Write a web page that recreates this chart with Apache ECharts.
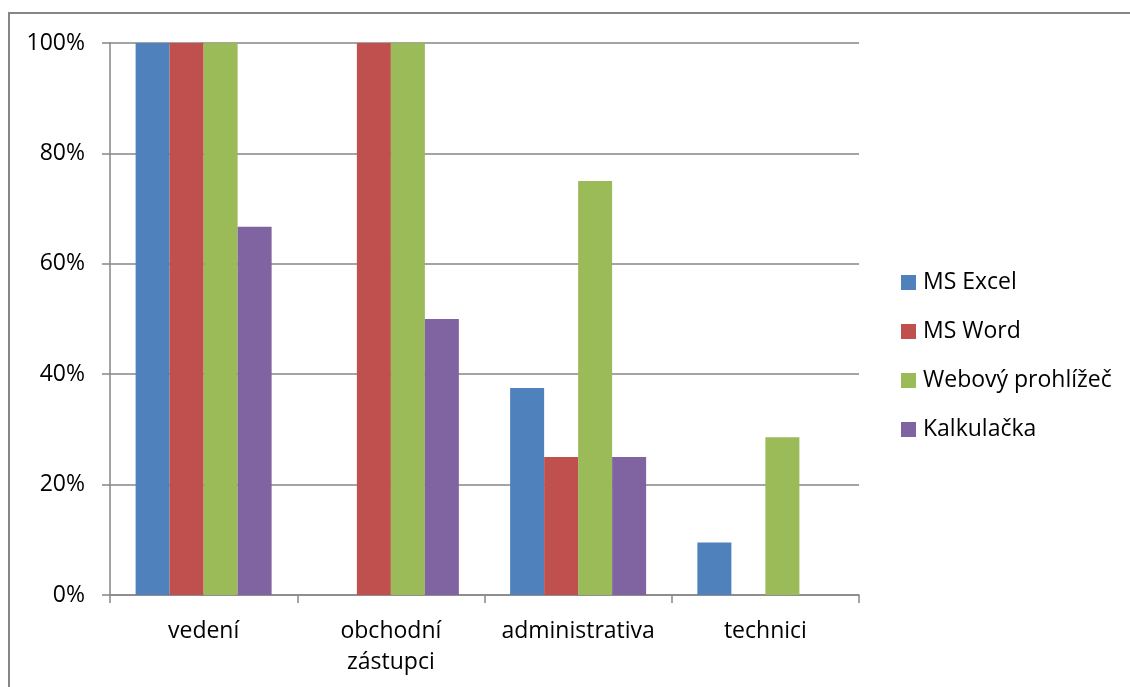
<!DOCTYPE html>
<html>
<head>
<meta charset="utf-8">
<script src="https://cdn.jsdelivr.net/npm/echarts@6/dist/echarts.min.js"></script>
<style>
  html, body { margin: 0; padding: 0; background: #fff; }
  #chart { width: 1130px; height: 687px; }
</style>
</head>
<body>
<div id="chart"></div>
<script>
// Share of employees using each application, by department (%)
const categories = ['vedení', 'obchodní\nzástupci', 'administrativa', 'technici'];
const seriesNames = ['MS Excel', 'MS Word', 'Webový prohlížeč', 'Kalkulačka'];
const excel = [100, 0, 37.5, 9.5];
const word = [100, 100, 25, 0];
const browser = [100, 100, 75, 28.6];
const calculator = [66.7, 50, 25, 0];
const yTicks = [0, 20, 40, 60, 80, 100];

const colors = ['#4F81BD', '#C0504D', '#9BBB59', '#8064A2'];
const values = [excel, word, browser, calculator];
const FONT = 'Open Sans';
const FS = 23;

const chart = echarts.init(document.getElementById('chart'), null, { renderer: 'canvas' });

chart.setOption({
  animation: false,
  textStyle: { fontFamily: FONT },
  graphic: [{
    type: 'rect',
    shape: { x: 9, y: 13, width: 1300, height: 900 },
    style: { fill: 'none', stroke: '#868686', lineWidth: 2 },
    silent: true,
    z: -10
  }],
  grid: { left: 110, right: 271, top: 43, bottom: 92, containLabel: false },
  legend: {
    orient: 'vertical',
    left: 901,
    top: 271,
    padding: 0,
    itemWidth: 15,
    itemHeight: 15,
    itemGap: 26,
    icon: 'rect',
    textStyle: { fontFamily: FONT, fontSize: FS, color: '#000', lineHeight: 22, padding: [0, 0, 0, 2] },
    data: seriesNames
  },
  xAxis: {
    type: 'category',
    data: categories,
    axisLine: { lineStyle: { color: '#868686', width: 1.5 } },
    axisTick: { show: true, length: 8, alignWithLabel: false, lineStyle: { color: '#868686', width: 1.5 } },
    axisLabel: { fontFamily: FONT, fontSize: FS, color: '#000', margin: 21, lineHeight: 31, interval: 0 },
    splitLine: { show: false }
  },
  yAxis: {
    type: 'value',
    min: yTicks[0],
    max: yTicks[yTicks.length - 1],
    interval: yTicks[1] - yTicks[0],
    axisLine: { show: true, lineStyle: { color: '#868686', width: 1.5 } },
    axisTick: { show: true, length: 8, lineStyle: { color: '#868686', width: 1.5 } },
    axisLabel: { fontFamily: FONT, fontSize: FS, color: '#000', margin: 25, formatter: v => v + '%' },
    splitLine: { show: true, lineStyle: { color: '#868686', width: 1.5 } }
  },
  series: seriesNames.map((name, i) => ({
    name,
    type: 'bar',
    data: values[i],
    barWidth: 34,
    barGap: '0%',
    itemStyle: { color: colors[i] }
  }))
});
</script>
</body>
</html>
